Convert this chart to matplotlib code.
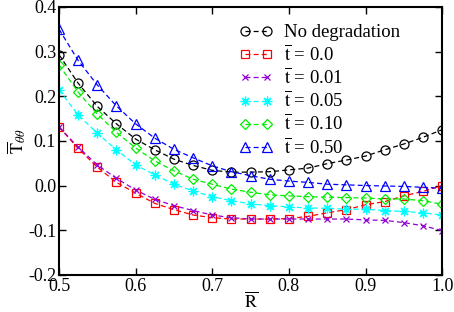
import numpy as np
import matplotlib
matplotlib.use('Agg')
import matplotlib.pyplot as plt

# radial positions (21 points)
r = [0.5, 0.525, 0.55, 0.575, 0.6, 0.625, 0.65, 0.675, 0.7, 0.725, 0.75,
     0.775, 0.8, 0.825, 0.85, 0.875, 0.9, 0.925, 0.95, 0.975, 1.0]

no_degradation = [0.293, 0.229, 0.177, 0.138, 0.104, 0.080, 0.059, 0.045, 0.034, 0.030, 0.030,
                  0.031, 0.035, 0.039, 0.049, 0.057, 0.066, 0.080, 0.093, 0.108, 0.125]
t_000 = [0.131, 0.083, 0.041, 0.007, -0.017, -0.040, -0.054, -0.066, -0.072, -0.075, -0.075,
         -0.075, -0.074, -0.069, -0.061, -0.054, -0.043, -0.036, -0.023, -0.013, 0.000]
t_001 = [0.131, 0.086, 0.046, 0.016, -0.010, -0.031, -0.045, -0.056, -0.066, -0.072, -0.075,
         -0.075, -0.075, -0.075, -0.075, -0.075, -0.077, -0.078, -0.083, -0.090, -0.101]
t_005 = [0.214, 0.158, 0.117, 0.080, 0.046, 0.024, 0.003, -0.012, -0.025, -0.034, -0.041,
         -0.045, -0.048, -0.050, -0.051, -0.053, -0.053, -0.056, -0.058, -0.061, -0.066]
t_010 = [0.270, 0.209, 0.160, 0.119, 0.084, 0.055, 0.033, 0.014, 0.003, -0.008, -0.015,
         -0.021, -0.023, -0.025, -0.026, -0.027, -0.028, -0.030, -0.030, -0.034, -0.042]
t_050 = [0.350, 0.280, 0.225, 0.178, 0.138, 0.106, 0.081, 0.062, 0.044, 0.031, 0.022,
         0.014, 0.010, 0.007, 0.003, 0.0015, 0.000, -0.001, -0.002, -0.004, -0.006]

# (values, label, colour, marker, markersize)
series = [
    (no_degradation, 'No degradation', 'black', 'o', 6.5),
    (t_000, r'$\overline{\mathrm{t}}$ = 0.0', 'red', 's', 6),
    (t_001, r'$\overline{\mathrm{t}}$ = 0.01', '#9400d3', 'x', 5),
    (t_005, r'$\overline{\mathrm{t}}$ = 0.05', 'cyan', (8, 2, 0), 7),
    (t_010, r'$\overline{\mathrm{t}}$ = 0.10', '#00ee00', 'D', 5),
    (t_050, r'$\overline{\mathrm{t}}$ = 0.50', 'blue', '^', 7),
]

plt.rcParams['font.family'] = ['Liberation Serif', 'DejaVu Serif']
plt.rcParams['mathtext.fontset'] = 'stix'

fig = plt.figure(figsize=(4.54, 3.12), dpi=100)
ax = fig.add_axes([0.130, 0.119, 0.844, 0.859])

for vals, label, color, marker, ms in series:
    ax.plot(r, vals, linestyle=(0, (4, 2.5)), lw=0.9, color=color, marker=marker,
            markersize=ms, markerfacecolor='none', markeredgecolor=color,
            markeredgewidth=0.9, label=label)

ax.set_xlim(0.5, 1.0)
ax.set_ylim(-0.2, 0.4)
ax.set_xticks([0.5, 0.6, 0.7, 0.8, 0.9, 1.0])
ax.set_yticks([-0.2, -0.1, 0.0, 0.1, 0.2, 0.3, 0.4])
ax.set_xticklabels(['0.5', '0.6', '0.7', '0.8', '0.9', '1.0'])
ax.set_yticklabels(['-0.2', '-0.1', '0.0', '0.1', '0.2', '0.3', '0.4'])
ax.tick_params(direction='in', length=5, width=1, top=True, right=True,
               labelsize=13, pad=2)
for s in ax.spines.values():
    s.set_linewidth(1.5)

ax.set_xlabel(r'$\overline{\mathrm{R}}$', fontsize=13, labelpad=-2)
ax.set_ylabel(r'$\overline{\mathrm{T}}_{\theta\theta}$', fontsize=13, labelpad=0)

ax.legend(loc='upper left', bbox_to_anchor=(0.47, 0.935), frameon=False,
          fontsize=13.5, numpoints=2, handlelength=1.8, handletextpad=0.6,
          labelspacing=0.14, borderpad=0, borderaxespad=0)

fig.savefig('out.png', dpi=100)
